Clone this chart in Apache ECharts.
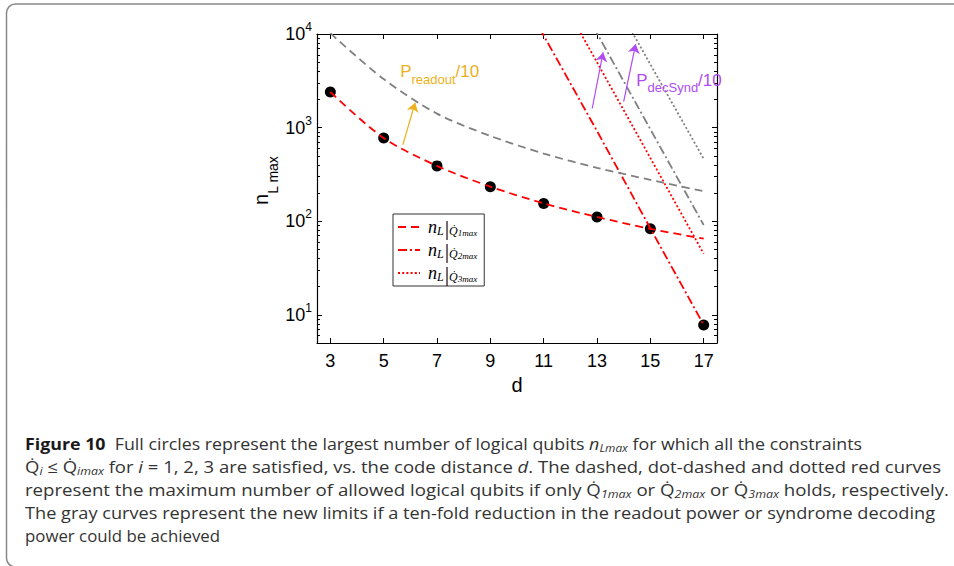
<!DOCTYPE html>
<html><head><meta charset="utf-8">
<script src="https://cdn.jsdelivr.net/npm/echarts@6/dist/echarts.min.js"></script>
<style>
html,body{margin:0;padding:0;background:#fff;}
#wrap{position:relative;width:954px;height:566px;overflow:hidden;background:#fff;}
#chart{position:absolute;left:0;top:0;width:954px;height:566px;}
.cap{position:absolute;left:25px;top:0;white-space:nowrap;font-family:'Open Sans','Noto Sans',sans-serif;font-size:16.5px;line-height:17px;color:#333;transform-origin:0 0;font-weight:400;}
.cap b{font-weight:700;color:#1a1a1a;}
.cap sub{font-size:11px;vertical-align:-2px;line-height:0;}
.cap .bl{display:inline-block;width:0;height:0;vertical-align:baseline;}
</style></head>
<body><div id="wrap"><div id="chart"></div>
<div class="cap"><span class="t"><b>Figure 10</b>&nbsp; Full circles represent the largest number of logical qubits <i>n<sub>Lmax</sub></i> for which all the constraints</span><span class="bl"></span></div>
<div class="cap"><span class="t">Q&#775;<sub><i>i</i></sub> &le; Q&#775;<sub><i>imax</i></sub> for <i>i</i> = 1, 2, 3 are satisfied, vs. the code distance <i>d</i>. The dashed, dot-dashed and dotted red curves</span><span class="bl"></span></div>
<div class="cap"><span class="t">represent the maximum number of allowed logical qubits if only Q&#775;<sub><i>1max</i></sub> or Q&#775;<sub><i>2max</i></sub> or Q&#775;<sub><i>3max</i></sub> holds, respectively.</span><span class="bl"></span></div>
<div class="cap"><span class="t">The gray curves represent the new limits if a ten-fold reduction in the readout power or syndrome decoding</span><span class="bl"></span></div>
<div class="cap"><span class="t">power could be achieved</span><span class="bl"></span></div>
</div>
<script>
// ---- data ----
const dValues = [3, 5, 7, 9, 11, 13, 15, 17];
const nLmax = [2400, 774, 390, 234, 155, 111, 83, 7.8];
const q1Max = [2400, 774, 390, 234, 155, 111, 83, 65];
const q2D = [9, 11, 13, 15, 17];
const q2Max = [104000, 9650, 920, 84, 7.8];
const q3D = [11, 13, 15, 17];
const q3Max = [52000, 4990, 474, 45];
const readout10 = [10200, 3300, 1410, 815, 528, 372, 277, 209];
const dec2D = [11, 13, 15, 17];
const decSynd2 = [106000, 10200, 960, 91];
const dec3D = [13, 15, 17];
const decSynd3 = [48500, 4740, 464];
const xTicks = [3, 5, 7, 9, 11, 13, 15, 17];
const yMajor = [10, 100, 1000, 10000];
const yExp = ['1', '2', '3', '4'];
const yMinor = [6, 7, 8, 9, 20, 30, 40, 50, 60, 70, 80, 90, 200, 300, 400, 500, 600, 700, 800, 900, 2000, 3000, 4000, 5000, 6000, 7000, 8000, 9000];
const legendNames = ['Q1', 'Q2', 'Q3'];
const legendIdx = {Q1: '1', Q2: '2', Q3: '3'};
// annotation anchors (data coords)
const readoutArrow = [[5.72, 656], [6.18, 1845]];
const decArrow1 = [[12.82, 1600], [13.23, 6350]];
const decArrow2 = [[14.0, 1890], [14.45, 7800]];
const readoutText = [5.62, 3950];
const decText = [14.47, 3200];

const pair = (xs, ys) => xs.map((x, i) => [x, ys[i]]);
const RED = '#ff0000', GRAY = '#808080', ORANGE = '#EDB120', PURPLE = '#B04CF2';
const FONT = "'Liberation Sans', Arial, Helvetica, sans-serif";
const SERIF = "'Liberation Serif', 'DejaVu Serif', serif";

const chart = echarts.init(document.getElementById('chart'), null, {renderer: 'svg'});

const baseY = {type: 'log', logBase: 10, min: 5, max: 10000, gridIndex: 0, splitLine: {show: false}};
const lineBlack = {show: true, onZero: false, lineStyle: {color: '#000', width: 1.2}};
const majorTick = {show: true, inside: true, length: 5, customValues: yMajor, lineStyle: {color: '#000', width: 1}};
const minorTick = {show: true, inside: true, length: 3, customValues: yMinor, lineStyle: {color: '#000', width: 1}};

function lineSeries(name, data, color, type, smooth) {
  return {
    name, type: 'line', data, xAxisIndex: 0, yAxisIndex: 0,
    symbol: 'none', showSymbol: false, clip: true, smooth: smooth || false, z: 3,
    lineStyle: {color, width: 1.8, type},
    itemStyle: {color}, emphasis: {disabled: true}, silent: true
  };
}

const dashed = [8, 5], dashDot = [9, 3, 2, 3], dotted = [2, 2.2];
const arrowLine = (pts, color) => [
  {coord: pts[0], lineStyle: {color, type: 'solid', width: 1.2}, itemStyle: {color}},
  {coord: pts[1], lineStyle: {color, type: 'solid', width: 1.2}, itemStyle: {color}}
];

const option = {
  animation: false,
  backgroundColor: '#fff',
  grid: {left: 317, top: 34, width: 400, height: 309, containLabel: false},
  xAxis: [
    {type: 'value', min: 2.5, max: 17.5, position: 'bottom', axisLine: lineBlack,
     axisTick: {show: true, inside: true, length: 5, customValues: xTicks, lineStyle: {color: '#000'}},
     axisLabel: {customValues: xTicks, fontSize: 18, fontFamily: FONT, color: '#000', margin: 9},
     splitLine: {show: false},
     name: 'd', nameLocation: 'middle', nameGap: 31, nameTextStyle: {fontSize: 20, fontFamily: FONT, color: '#000'}},
    {type: 'value', min: 2.5, max: 17.5, position: 'top', axisLine: lineBlack,
     axisTick: {show: true, inside: true, length: 5, customValues: xTicks, lineStyle: {color: '#000'}},
     axisLabel: {show: false}, splitLine: {show: false}}
  ],
  yAxis: [
    Object.assign({}, baseY, {position: 'left', axisLine: lineBlack, axisTick: majorTick,
      axisLabel: {customValues: yMajor, margin: 5,
        formatter: v => '{b|10}{sup|' + yExp[yMajor.indexOf(Math.round(v))] + '}',
        rich: {b: {fontSize: 18, fontFamily: FONT, color: '#000', lineHeight: 26},
               sup: {fontSize: 12, fontFamily: FONT, color: '#000', verticalAlign: 'top', lineHeight: 14}}},
      name: '{n|n}{s|L max}', nameLocation: 'middle', nameGap: 37, nameRotate: 90,
      nameTextStyle: {padding: [0, 0, 0, 16],
        rich: {n: {fontSize: 20, fontFamily: FONT, color: '#000', lineHeight: 38},
               s: {fontSize: 14, fontFamily: FONT, color: '#000', verticalAlign: 'bottom', lineHeight: 13}}}}),
    Object.assign({}, baseY, {position: 'left', axisLine: {show: false}, axisTick: minorTick, axisLabel: {show: false}}),
    Object.assign({}, baseY, {position: 'right', axisLine: lineBlack, axisTick: majorTick, axisLabel: {show: false}}),
    Object.assign({}, baseY, {position: 'right', axisLine: {show: false}, axisTick: minorTick, axisLabel: {show: false}})
  ],
  legend: {
    data: legendNames, orient: 'vertical', left: 393, top: 214,
    padding: [2, 7, 2, 4], itemGap: 1, itemWidth: 22, itemHeight: 12,
    borderColor: '#333', borderWidth: 1, backgroundColor: '#fff', selectedMode: false,
    itemStyle: {opacity: 0, borderWidth: 0},
    formatter: name => '{n|n}{l|L}{bar||}{q|Q\u0307}{s|' + legendIdx[name] + 'max}',
    textStyle: {
      color: '#000',
      rich: {
        n: {fontSize: 18, fontStyle: 'italic', fontFamily: SERIF, color: '#000', lineHeight: 20, padding: [0, 0, 0, 3]},
        l: {fontSize: 12, fontStyle: 'italic', fontFamily: SERIF, color: '#000', verticalAlign: 'bottom', lineHeight: 13},
        bar: {fontSize: 22, fontFamily: SERIF, color: '#000', lineHeight: 20, padding: [0, 0, 0, 1]},
        q: {fontSize: 12, fontStyle: 'italic', fontFamily: SERIF, color: '#000', verticalAlign: 'bottom', lineHeight: 10},
        s: {fontSize: 9, fontStyle: 'italic', fontFamily: SERIF, color: '#000', verticalAlign: 'bottom', lineHeight: 6}
      }
    }
  },
  graphic: [{type: 'rect', silent: true, z: -10, shape: {x: 6.5, y: 4, width: 1000, height: 563, r: 9},
             style: {fill: 'none', stroke: '#888', lineWidth: 1.5}}],
  series: [
    {name: 'nLmax', type: 'scatter', data: pair(dValues, nLmax), xAxisIndex: 0, yAxisIndex: 0,
     symbolSize: 11, itemStyle: {color: '#000', opacity: 1}, z: 1, silent: true, emphasis: {disabled: true}},
    Object.assign(lineSeries('Q1', pair(dValues, q1Max), RED, dashed, 0.3), {
      markLine: {silent: true, symbol: ['none', 'arrow'], symbolSize: 9, label: {show: false}, animation: false,
        data: [arrowLine(readoutArrow, ORANGE), arrowLine(decArrow1, PURPLE), arrowLine(decArrow2, PURPLE)]},
      markPoint: {silent: true, symbol: 'circle', symbolSize: 0, animation: false,
        data: [
          {coord: readoutText, label: {show: true, position: 'right', distance: 0,
            formatter: '{p|P}{s|readout}{p|/10}',
            rich: {p: {fontSize: 17, fontFamily: FONT, color: ORANGE, lineHeight: 28},
                   s: {fontSize: 13, fontFamily: FONT, color: ORANGE, verticalAlign: 'bottom', lineHeight: 12}}}},
          {coord: decText, label: {show: true, position: 'right', distance: 0,
            formatter: '{p|P}{s|decSynd}{p|/10}',
            rich: {p: {fontSize: 17, fontFamily: FONT, color: PURPLE, lineHeight: 28},
                   s: {fontSize: 13, fontFamily: FONT, color: PURPLE, verticalAlign: 'bottom', lineHeight: 12}}}}
        ]}
    }),
    lineSeries('Q2', pair(q2D, q2Max), RED, dashDot),
    lineSeries('Q3', pair(q3D, q3Max), RED, dotted),
    lineSeries('readout/10', pair(dValues, readout10), GRAY, dashed, 0.3),
    lineSeries('decSynd2/10', pair(dec2D, decSynd2), GRAY, dashDot),
    lineSeries('decSynd3/10', pair(dec3D, decSynd3), GRAY, dotted)
  ]
};
chart.setOption(option);

const capBaselines = [450, 473, 496, 519, 542];
const capEnds = [862, 941, 949, 935, 220];
function placeCaption() {
  const els = Array.from(document.querySelectorAll('.cap'));
  els.forEach((el, i) => {
    el.style.transform = 'none';
    el.style.top = '0px';
    const base = el.querySelector('.bl').offsetTop;
    const w = el.querySelector('.t').getBoundingClientRect().width;
    el.style.top = (capBaselines[i] - base) + 'px';
    el.style.transform = 'scaleX(' + ((capEnds[i] - 25) / w) + ')';
  });
}
placeCaption();
if (document.fonts && document.fonts.ready) document.fonts.ready.then(placeCaption);
</script>
</body></html>
